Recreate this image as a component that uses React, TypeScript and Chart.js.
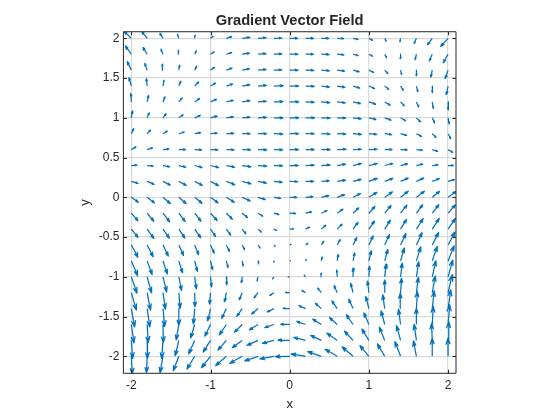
import React, { useEffect, useRef } from "react";
import { Chart, registerables } from "chart.js";

Chart.register(...registerables);

const gridX = [-2, -1.8, -1.6, -1.4, -1.2, -1, -0.8, -0.6, -0.4, -0.2, 0, 0.2, 0.4, 0.6, 0.8, 1, 1.2, 1.4, 1.6, 1.8, 2];
const gridY = [2, 1.8, 1.6, 1.4, 1.2, 1, 0.8, 0.6, 0.4, 0.2, 0, -0.2, -0.4, -0.6, -0.8, -1, -1.2, -1.4, -1.6, -1.8, -2];

const xTicks = [-2, -1, 0, 1, 2];
const yTicks = [-2, -1.5, -1, -0.5, 0, 0.5, 1, 1.5, 2];

// Each row runs along gridX, rows run along gridY.
const uRows = [
  [-22, -16, -9, -4, 1, 8, 16, 23, 24, 24, 24, 24, 22, 19, 15, 11, 4, -2, -7, -14, -22],
  [-18, -12, -6, -1, 5, 11, 16, 22, 24, 24, 25, 24, 23, 20, 15, 11, 5, 0, -4, -9, -15],
  [-12, -7, -2, 2, 6, 12, 17, 22, 24, 24, 25, 25, 24, 22, 18, 14, 9, 3, 0, -4, -9],
  [-7, -2, 3, 6, 12, 15, 19, 23, 25, 28, 27, 26, 24, 23, 20, 17, 12, 8, 4, 0, -5],
  [-1, 4, 6, 10, 15, 18, 21, 23, 25, 27, 27, 26, 25, 24, 22, 20, 16, 11, 7, 3, 0],
  [3, 6, 9, 13, 17, 20, 21, 23, 25, 27, 27, 27, 26, 25, 24, 21, 19, 15, 12, 7, 3],
  [7, 10, 13, 16, 18, 20, 22, 24, 26, 27, 27, 26, 26, 26, 25, 23, 21, 18, 15, 11, 8],
  [14, 16, 18, 20, 21, 22, 23, 25, 26, 26, 26, 26, 26, 27, 25, 25, 22, 20, 18, 16, 14],
  [17, 18, 20, 21, 22, 24, 25, 26, 26, 26, 26, 26, 26, 25, 25, 25, 24, 21, 19, 17, 16],
  [20, 21, 22, 22, 23, 24, 25, 26, 25, 25, 24, 24, 24, 25, 24, 25, 24, 23, 22, 21, 19],
  [21, 22, 22, 22, 22, 23, 24, 24, 22, 20, 21, 22, 22, 22, 22, 24, 23, 23, 24, 22, 25],
  [20, 20, 20, 19, 19, 20, 18, 16, 14, 15, 18, 18, 17, 17, 17, 18, 19, 19, 19, 20, 22],
  [20, 20, 19, 18, 18, 15, 13, 11, 10, 8, 12, 12, 13, 15, 15, 17, 17, 18, 20, 21, 22],
  [20, 18, 16, 14, 12, 11, 9, 7, 6, 4, 4, 7, 7, 9, 11, 13, 14, 16, 17, 19, 21],
  [19, 15, 13, 11, 8, 6, 5, 3, 2, 0, 2, 2, 2, 3, 5, 7, 9, 11, 13, 15, 18],
  [17, 13, 11, 8, 5, 3, 1, -2, -3, -4, -5, -4, -1, -1, 0, 2, 4, 5, 7, 11, 14],
  [15, 10, 7, 4, 1, -3, -5, -9, -12, -12, -12, -11, -11, -9, -7, -4, 0, 3, 6, 9, 12],
  [10, 8, 5, 0, -4, -8, -14, -16, -19, -20, -20, -20, -18, -16, -13, -9, -6, -1, 3, 6, 8],
  [8, 3, 1, -8, -12, -17, -21, -23, -26, -27, -27, -26, -26, -23, -20, -15, -11, -6, 0, 3, 5],
  [4, 1, -4, -11, -18, -22, -25, -30, -33, -34, -35, -35, -32, -31, -26, -21, -16, -12, -7, -2, 2],
  [3, -2, -9, -17, -23, -27, -32, -37, -40, -42, -43, -43, -41, -36, -33, -27, -22, -17, -9, 0, 0],
];

const vRows = [
  [22, 20, 15, 12, 9, 6, 5, 3, 2, 1, 0, 0, 0, -1, -3, -6, -9, -10, -15, -19, -24],
  [25, 20, 15, 12, 10, 7, 5, 3, 2, 1, 0, 0, -1, -2, -4, -6, -10, -13, -16, -20, -25],
  [25, 20, 18, 14, 11, 8, 6, 4, 2, 1, 0, -1, -2, -3, -5, -7, -10, -13, -17, -20, -25],
  [25, 22, 17, 14, 12, 9, 6, 4, 2, 1, 0, -1, -3, -4, -6, -8, -10, -13, -17, -20, -25],
  [25, 19, 15, 12, 10, 8, 5, 4, 2, 1, 0, -1, -2, -3, -5, -7, -10, -12, -15, -19, -24],
  [20, 15, 12, 9, 7, 5, 3, 2, 1, 0, 0, 0, -1, -1, -3, -5, -7, -9, -12, -15, -18],
  [15, 11, 8, 5, 3, 2, 1, 0, 0, -1, 0, 0, -1, -1, -2, -2, -3, -5, -8, -11, -15],
  [8, 5, 2, 0, -1, -1, -1, -1, -1, -1, 0, 0, 0, 1, 1, 1, 0, -1, -2, -5, -8],
  [1, -2, -4, -5, -6, -6, -5, -4, -2, -1, 0, 1, 2, 4, 6, 6, 6, 5, 4, 2, 0],
  [-6, -9, -11, -12, -12, -13, -10, -7, -5, -3, -1, 0, 2, 4, 6, 9, 9, 10, 10, 8, 5],
  [-15, -17, -19, -19, -18, -17, -15, -11, -7, -3, 0, 2, 5, 8, 11, 15, 16, 18, 18, 18, 18],
  [-23, -24, -26, -25, -24, -22, -18, -13, -9, -4, -1, 4, 8, 12, 16, 20, 23, 24, 25, 25, 25],
  [-25, -28, -27, -27, -26, -22, -18, -14, -9, -4, 1, 6, 11, 15, 20, 24, 27, 29, 31, 32, 32],
  [-36, -35, -33, -31, -29, -24, -19, -14, -9, -4, 2, 5, 11, 16, 22, 27, 31, 34, 37, 37, 39],
  [-44, -41, -39, -36, -31, -26, -20, -15, -9, -4, 1, 4, 11, 19, 24, 30, 34, 38, 42, 43, 45],
  [-49, -48, -45, -41, -36, -30, -24, -17, -12, -6, 0, 5, 10, 20, 26, 32, 38, 41, 45, 48, 50],
  [-52, -52, -49, -47, -42, -34, -27, -21, -15, -8, 1, 7, 14, 21, 28, 35, 38, 43, 46, 50, 53],
  [-55, -55, -54, -50, -46, -36, -29, -23, -16, -10, 1, 9, 16, 23, 28, 36, 41, 46, 51, 53, 56],
  [-55, -54, -54, -46, -40, -35, -31, -23, -16, -9, 1, 9, 16, 21, 29, 35, 41, 45, 49, 54, 59],
  [-54, -54, -54, -46, -40, -35, -29, -22, -15, -9, 1, 9, 15, 22, 28, 34, 39, 44, 48, 51, 56],
  [-53, -49, -49, -43, -38, -34, -28, -21, -14, -8, -1, 7, 14, 21, 28, 32, 37, 44, 46, 54, 54],
];

const quiverScale = 1 / 238;
const headLength = 0.33;
const headSpread = 0.33;

const ink = "#262626";
const arrowColor = "#0072BD";
const gridColor = "#DADADA";
const fontFamily = "'Liberation Sans', Arial, sans-serif";

function buildArrowPath() {
  const path: { x: number; y: number }[] = [];
  gridY.forEach((y, r) => {
    gridX.forEach((x, c) => {
      const u = uRows[r][c] * quiverScale;
      const v = vRows[r][c] * quiverScale;
      const hx = x + u;
      const hy = y + v;
      path.push({ x, y }, { x: hx, y: hy });
      path.push({ x: hx - headLength * (u + headSpread * v), y: hy - headLength * (v - headSpread * u) });
      path.push({ x: hx, y: hy });
      path.push({ x: hx - headLength * (u - headSpread * v), y: hy - headLength * (v + headSpread * u) });
      path.push({ x: NaN, y: NaN });
    });
  });
  return path;
}

const boxAndTicks = {
  id: "boxAndTicks",
  afterDatasetsDraw(chart: any) {
    const { ctx, chartArea: a, scales } = chart;
    const len = 3.5;
    ctx.save();
    ctx.strokeStyle = ink;
    ctx.lineWidth = 1;
    ctx.beginPath();
    ctx.rect(a.left, a.top, a.right - a.left, a.bottom - a.top);
    xTicks.forEach((t) => {
      const p = Math.round(scales.x.getPixelForValue(t)) + 0.5;
      ctx.moveTo(p, a.bottom);
      ctx.lineTo(p, a.bottom - len);
      ctx.moveTo(p, a.top);
      ctx.lineTo(p, a.top + len);
    });
    yTicks.forEach((t) => {
      const p = Math.round(scales.y.getPixelForValue(t)) + 0.5;
      ctx.moveTo(a.left, p);
      ctx.lineTo(a.left + len, p);
      ctx.moveTo(a.right, p);
      ctx.lineTo(a.right - len, p);
    });
    ctx.stroke();
    ctx.restore();
  },
};

export default function App() {
  const ref = useRef<HTMLCanvasElement>(null);

  useEffect(() => {
    document.body.style.margin = "0";
    const chart = new Chart(ref.current as HTMLCanvasElement, {
      type: "scatter",
      data: {
        datasets: [
          {
            data: buildArrowPath(),
            showLine: true,
            spanGaps: false,
            borderColor: arrowColor,
            borderWidth: 1.25,
            pointRadius: 0,
            borderCapStyle: "butt",
            borderJoinStyle: "round",
          },
        ],
      },
      options: {
        animation: false,
        responsive: false,
        devicePixelRatio: 1,
        layout: { padding: { right: 104 } },
        plugins: {
          legend: { display: false },
          tooltip: { enabled: false },
          title: {
            display: true,
            fullSize: false,
            text: "Gradient Vector Field",
            color: ink,
            font: { family: fontFamily, size: 14.7, weight: "bold" },
            padding: { top: 12, bottom: 2.1 },
          },
        },
        scales: {
          x: {
            type: "linear",
            min: -2.1,
            max: 2.1,
            afterBuildTicks: (s: any) => {
              s.ticks = xTicks.map((value) => ({ value }));
            },
            afterFit: (s: any) => {
              s.height = 46.7;
            },
            grid: { color: gridColor, drawTicks: false, lineWidth: 1.2 },
            border: { display: false },
            ticks: {
              color: ink,
              font: { family: fontFamily, size: 12 },
              padding: 5,
              maxRotation: 0,
              autoSkip: false,
              callback: (v: any) => String(v),
            },
            title: {
              display: true,
              text: "x",
              color: ink,
              font: { family: fontFamily, size: 13 },
              padding: { top: 0, bottom: 8 },
            },
          },
          y: {
            type: "linear",
            min: -2.214,
            max: 2.083,
            afterBuildTicks: (s: any) => {
              s.ticks = yTicks.map((value) => ({ value }));
            },
            afterFit: (s: any) => {
              s.width = 123.4;
            },
            grid: { color: gridColor, drawTicks: false, lineWidth: 1.2 },
            border: { display: false },
            ticks: {
              color: ink,
              font: { family: fontFamily, size: 12 },
              padding: 4,
              autoSkip: false,
              callback: (v: any) => String(v),
            },
            title: {
              display: true,
              text: "y",
              color: ink,
              font: { family: fontFamily, size: 13 },
              padding: { top: 78, bottom: 0 },
            },
          },
        },
      },
      plugins: [boxAndTicks],
    } as any);
    return () => chart.destroy();
  }, []);

  return <canvas ref={ref} width={560} height={420} style={{ display: "block" }} />;
}
